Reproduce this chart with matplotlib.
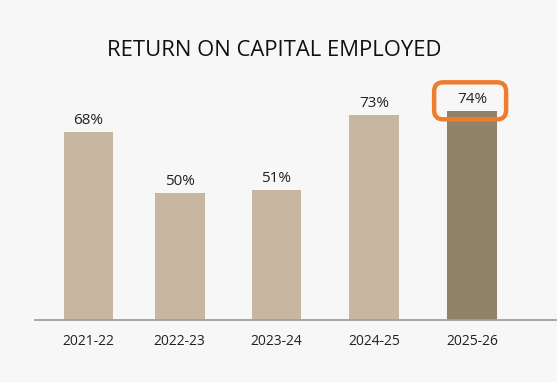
import matplotlib
matplotlib.use("Agg")
import matplotlib.pyplot as plt
import matplotlib.transforms as mtransforms
from matplotlib.patches import FancyBboxPatch

years = ["2021-22", "2022-23", "2023-24", "2024-25", "2025-26"]
roce = [68, 50, 51, 73, 74]
highlight = 4  # latest year, dark bar + orange ring

light = "#C8B7A0"
dark = "#918369"
bg = "#F7F7F7"
txt = "#222222"

plt.rcParams["font.family"] = ["Open Sans", "DejaVu Sans"]

fig = plt.figure(figsize=(5.57, 3.82), dpi=100, facecolor=bg)
ax = fig.add_axes([35 / 557, 62 / 382, 522 / 557, 260 / 382])
ax.set_facecolor(bg)

pos = [0, 0.95, 1.96, 2.98, 4.0]
colors = [dark if i == highlight else light for i in range(len(roce))]

bars = ax.bar(pos, roce, width=0.52, color=colors, zorder=2)

ax.set_ylim(13, 89)
ax.set_xlim(-0.558, 4.885)

for p, v in zip(pos, roce):
    ax.annotate(f"{v}%", (p, v), xytext=(0, 3), textcoords="offset points",
                ha="center", va="bottom", fontsize=11, color=txt)

# rounded orange ring around the highlighted value
trans = fig.dpi_scale_trans + mtransforms.ScaledTranslation(
    pos[highlight], roce[highlight], ax.transData)
ring = FancyBboxPatch((-0.38, -0.08), 0.72, 0.37,
                      boxstyle="round,pad=0,rounding_size=0.09",
                      transform=trans, fill=False, ec="#EE7D2F", lw=3.2,
                      zorder=5, clip_on=False)
ax.add_patch(ring)

ax.set_xticks(pos)
ax.set_xticklabels(years, fontsize=10, color=txt)
ax.tick_params(axis="x", length=0, pad=10)
ax.set_yticks([])
for s in ["top", "right", "left"]:
    ax.spines[s].set_visible(False)
ax.spines["bottom"].set_color("#A0A0A0")
ax.spines["bottom"].set_linewidth(1.3)

fig.text(274 / 557, 1 - 51 / 382, "RETURN ON CAPITAL EMPLOYED",
         ha="center", va="center", fontsize=15.8, color="#111111")

fig.savefig("out.png", dpi=100, facecolor=bg)
